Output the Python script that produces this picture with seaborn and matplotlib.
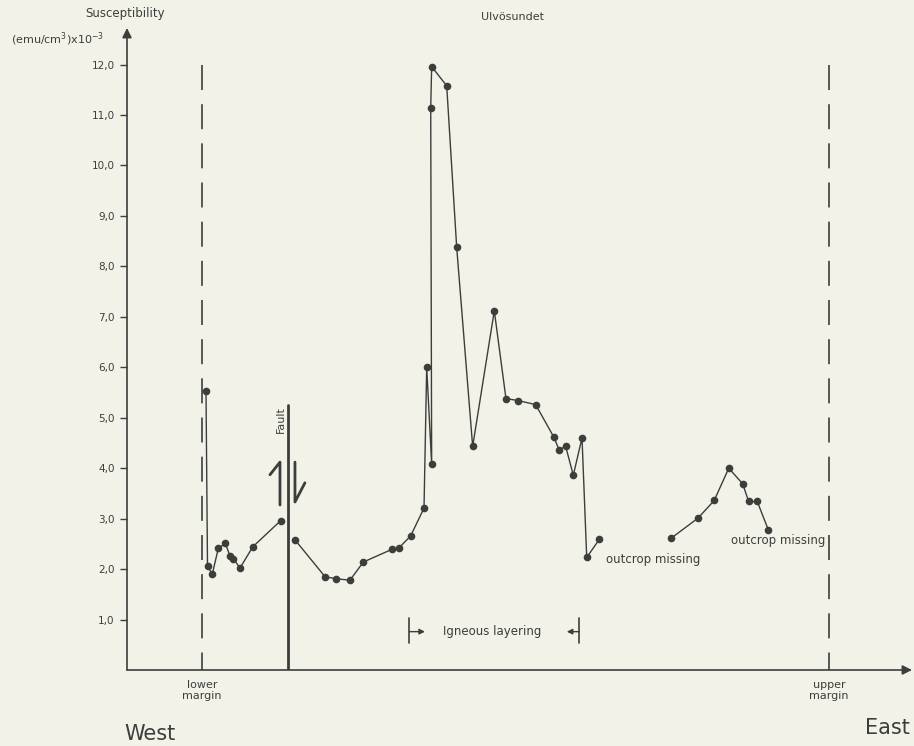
import matplotlib
matplotlib.use("Agg")
import matplotlib.pyplot as plt
import pandas as pd
import seaborn as sns

# Position along the profile in % of intrusion width (lower margin = 0, upper margin = 100)
west_pos = [0.64, 0.88, 1.64, 2.60, 3.72, 4.47, 4.99, 6.06, 8.09, 12.55]
west_sus = [5.53, 2.06, 1.90, 2.41, 2.51, 2.26, 2.21, 2.02, 2.44, 2.96]

central_pos = [14.83, 19.62, 21.32, 23.60, 25.73, 30.26, 31.42, 33.29, 35.41,
               35.84, 36.63, 36.48, 36.63, 39.03, 40.62, 43.17, 46.62, 48.48,
               50.45, 53.22, 56.14, 56.94, 58.01, 59.22, 60.61, 61.36, 63.37]
central_sus = [2.58, 1.85, 1.81, 1.78, 2.14, 2.39, 2.42, 2.66, 3.21,
               6.00, 4.08, 11.14, 11.96, 11.58, 8.38, 4.43, 7.12, 5.38,
               5.34, 5.26, 4.61, 4.37, 4.43, 3.86, 4.60, 2.23, 2.59]

east_pos = [74.80, 79.11, 81.69, 84.02, 86.24, 87.19, 88.56, 90.32]
east_sus = [2.61, 3.01, 3.36, 4.00, 3.69, 3.34, 3.34, 2.78]

margin_pos = [0, 100]
margin_labels = ["lower\nmargin", "upper\nmargin"]
fault_pos = 13.76
fault_top = 5.25
layering_start = 33.06
layering_end = 60.18
gap_notes = [(64.43, 2.115), (84.32, 2.50)]

ytick_vals = list(range(1, 13))
ytick_labels = [f"{v},0" for v in ytick_vals]

ink = "#3b3e3b"
paper = "#f2f2e9"

sns.set_style("white")
plt.rcParams["font.family"] = ["DejaVu Sans"]
plt.rcParams["text.color"] = ink

df = pd.concat([
    pd.DataFrame({"pos": west_pos, "sus": west_sus, "segment": "west"}),
    pd.DataFrame({"pos": central_pos, "sus": central_sus, "segment": "central"}),
    pd.DataFrame({"pos": east_pos, "sus": east_sus, "segment": "east"}),
], ignore_index=True)

fig = plt.figure(figsize=(9.14, 7.46), dpi=100, facecolor=paper)
ax = fig.add_axes([127 / 914, 76 / 746, 785 / 914, 642 / 746])
ax.set_facecolor(paper)
ax.set_xlim(-11.96, 113.24)
ax.set_ylim(0, 12.725)

# measurement profile, one unbroken line per exposed stretch
sns.lineplot(data=df, x="pos", y="sus", units="segment", estimator=None,
             sort=False, color=ink, lw=1.0, marker="o", markersize=5.5,
             markeredgewidth=0, ax=ax)

# intrusion margins
for m in margin_pos:
    ax.plot([m, m], [12.0, 0], color=ink, lw=1.2,
            linestyle=(0, (15, 8.5)), solid_capstyle="butt")

# fault with displacement half-arrows
ax.plot([fault_pos, fault_pos], [0, fault_top], color=ink, lw=2.0)
ax.text(fault_pos - 1.16, fault_top - 0.02, "Fault", rotation=90,
        ha="center", va="top", fontsize=8)
ax.plot([fault_pos - 1.32, fault_pos - 1.32, fault_pos - 2.92],
        [3.27, 4.12, 3.87], color=ink, lw=2.0, solid_capstyle="round")
ax.plot([fault_pos + 1.07, fault_pos + 1.07, fault_pos + 2.66],
        [4.12, 3.33, 3.71], color=ink, lw=2.0, solid_capstyle="round")

# igneous layering interval
bar_y = 0.76
for xe in (layering_start, layering_end):
    ax.plot([xe, xe], [0.53, 1.03], color=ink, lw=1.2)
ax.annotate("", xy=(layering_start + 2.5, bar_y), xytext=(layering_start, bar_y),
            arrowprops=dict(arrowstyle="-|>", color=ink, lw=1.0,
                            mutation_scale=8, shrinkA=0, shrinkB=0))
ax.annotate("", xy=(layering_end - 2.0, bar_y), xytext=(layering_end, bar_y),
            arrowprops=dict(arrowstyle="-|>", color=ink, lw=1.0,
                            mutation_scale=8, shrinkA=0, shrinkB=0))
ax.text((layering_start + layering_end) / 2 - 0.4, bar_y, "Igneous layering",
        ha="center", va="center", fontsize=8.5)

for gx, gy in gap_notes:
    ax.text(gx, gy, "outcrop missing", ha="left", va="baseline", fontsize=8.5)

# axes drawn as arrows
for s in ax.spines.values():
    s.set_visible(False)
ax.annotate("", xy=(1, 0), xytext=(0, 0), xycoords="axes fraction",
            arrowprops=dict(arrowstyle="-|>", color=ink, lw=1.2,
                            mutation_scale=14, shrinkA=0, shrinkB=0))
ax.annotate("", xy=(0, 1), xytext=(0, 0), xycoords="axes fraction",
            arrowprops=dict(arrowstyle="-|>", color=ink, lw=1.2,
                            mutation_scale=14, shrinkA=0, shrinkB=0))

ax.set_yticks(ytick_vals, ytick_labels)
ax.tick_params(axis="y", direction="out", length=5, width=1.0, color=ink,
               labelsize=7.5, pad=4, labelcolor=ink, left=True)
ax.set_xticks(margin_pos, margin_labels)
ax.tick_params(axis="x", length=0, pad=7, labelsize=8, labelcolor=ink)
ax.set_xlabel("")
ax.set_ylabel("")

fig.text(125 / 914, 1 - 14 / 746, "Susceptibility", ha="center", va="center",
         fontsize=8.5)
fig.text(58 / 914, 1 - 39 / 746, r"(emu/cm$^3$)x10$^{-3}$", ha="center",
         va="center", fontsize=8)
fig.text(513 / 914, 1 - 17 / 746, "Ulvösundet", ha="center", va="center",
         fontsize=8)
fig.text(150 / 914, 1 - 734 / 746, "West", ha="center", va="center",
         fontsize=15)
fig.text(887 / 914, 1 - 728 / 746, "East", ha="center", va="center",
         fontsize=15)

fig.savefig("out.png", dpi=100, facecolor=paper)
